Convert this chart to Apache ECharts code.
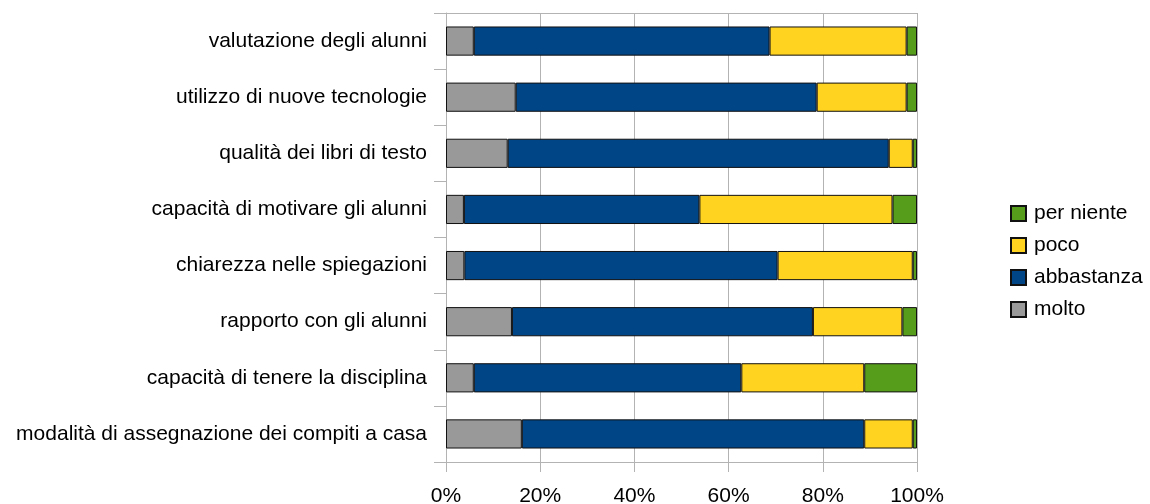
<!DOCTYPE html>
<html>
<head>
<meta charset="utf-8">
<script src="https://cdn.jsdelivr.net/npm/echarts@6/dist/echarts.min.js"></script>
<style>
    html, body { margin: 0; padding: 0; background: #ffffff; }
    #chart { width: 1150px; height: 504px; }
</style>
</head>
<body>
<div id="chart"></div>
<script>
// categories from top to bottom
const categories = [
    "valutazione degli alunni",
    "utilizzo di nuove tecnologie",
    "qualità dei libri di testo",
    "capacità di motivare gli alunni",
    "chiarezza nelle spiegazioni",
    "rapporto con gli alunni",
    "capacità di tenere la disciplina",
    "modalità di assegnazione dei compiti a casa"
];
const molto = [5.9, 14.8, 13.1, 3.8, 3.9, 14.0, 5.9, 16.1];
const abbastanza = [62.8, 63.9, 80.9, 50.0, 66.5, 63.9, 56.8, 72.7];
const poco = [29.1, 19.1, 5.1, 41.0, 28.7, 19.0, 26.1, 10.3];
const perNiente = [2.2, 2.2, 0.9, 5.2, 0.9, 3.1, 11.2, 0.9];
const legendOrder = ["per niente", "poco", "abbastanza", "molto"];

const fontName = "Liberation Sans";
const colorGrid = "#b3b3b3";

function barSeries(name, data, color) {
    return {
        name: name,
        type: "bar",
        stack: "tot",
        barWidth: "52%",
        data: data,
        itemStyle: {
            color: color,
            borderColor: "#111111",
            borderWidth: 1
        }
    };
}

const chart = echarts.init(document.getElementById("chart"));
chart.setOption({
    animation: false,
    textStyle: { fontFamily: fontName },
    grid: {
        left: 446,
        right: 233,
        top: 13,
        bottom: 42,
        containLabel: false,
        outerBoundsMode: "none"
    },
    legend: {
        orient: "vertical",
        left: 1010,
        top: 203,
        padding: 0,
        icon: "rect",
        itemWidth: 15,
        itemHeight: 15,
        itemGap: 11,
        data: legendOrder,
        textStyle: {
            fontSize: 21,
            color: "#000000",
            fontFamily: fontName,
            padding: [0, 0, 0, 3]
        }
    },
    xAxis: [
        {
            type: "value",
            min: 0,
            max: 100,
            interval: 20,
            axisLine: { show: true, lineStyle: { color: colorGrid } },
            axisTick: { show: true, length: 10, lineStyle: { color: colorGrid } },
            splitLine: { show: true, lineStyle: { color: colorGrid } },
            axisLabel: {
                formatter: "{value}%",
                fontSize: 21,
                color: "#000000",
                margin: 24
            }
        },
        {
            type: "value",
            position: "top",
            min: 0,
            max: 100,
            axisLine: { show: true, lineStyle: { color: colorGrid } },
            axisTick: { show: false },
            axisLabel: { show: false },
            splitLine: { show: false }
        }
    ],
    yAxis: {
        type: "category",
        inverse: true,
        data: categories,
        axisLine: { show: true, lineStyle: { color: colorGrid } },
        axisTick: { show: true, length: 12, lineStyle: { color: colorGrid } },
        axisLabel: {
            fontSize: 21,
            color: "#000000",
            margin: 19
        }
    },
    series: [
        barSeries("molto", molto, "#999999"),
        barSeries("abbastanza", abbastanza, "#004586"),
        barSeries("poco", poco, "#ffd320"),
        barSeries("per niente", perNiente, "#579d1c")
    ]
});
</script>
</body>
</html>
